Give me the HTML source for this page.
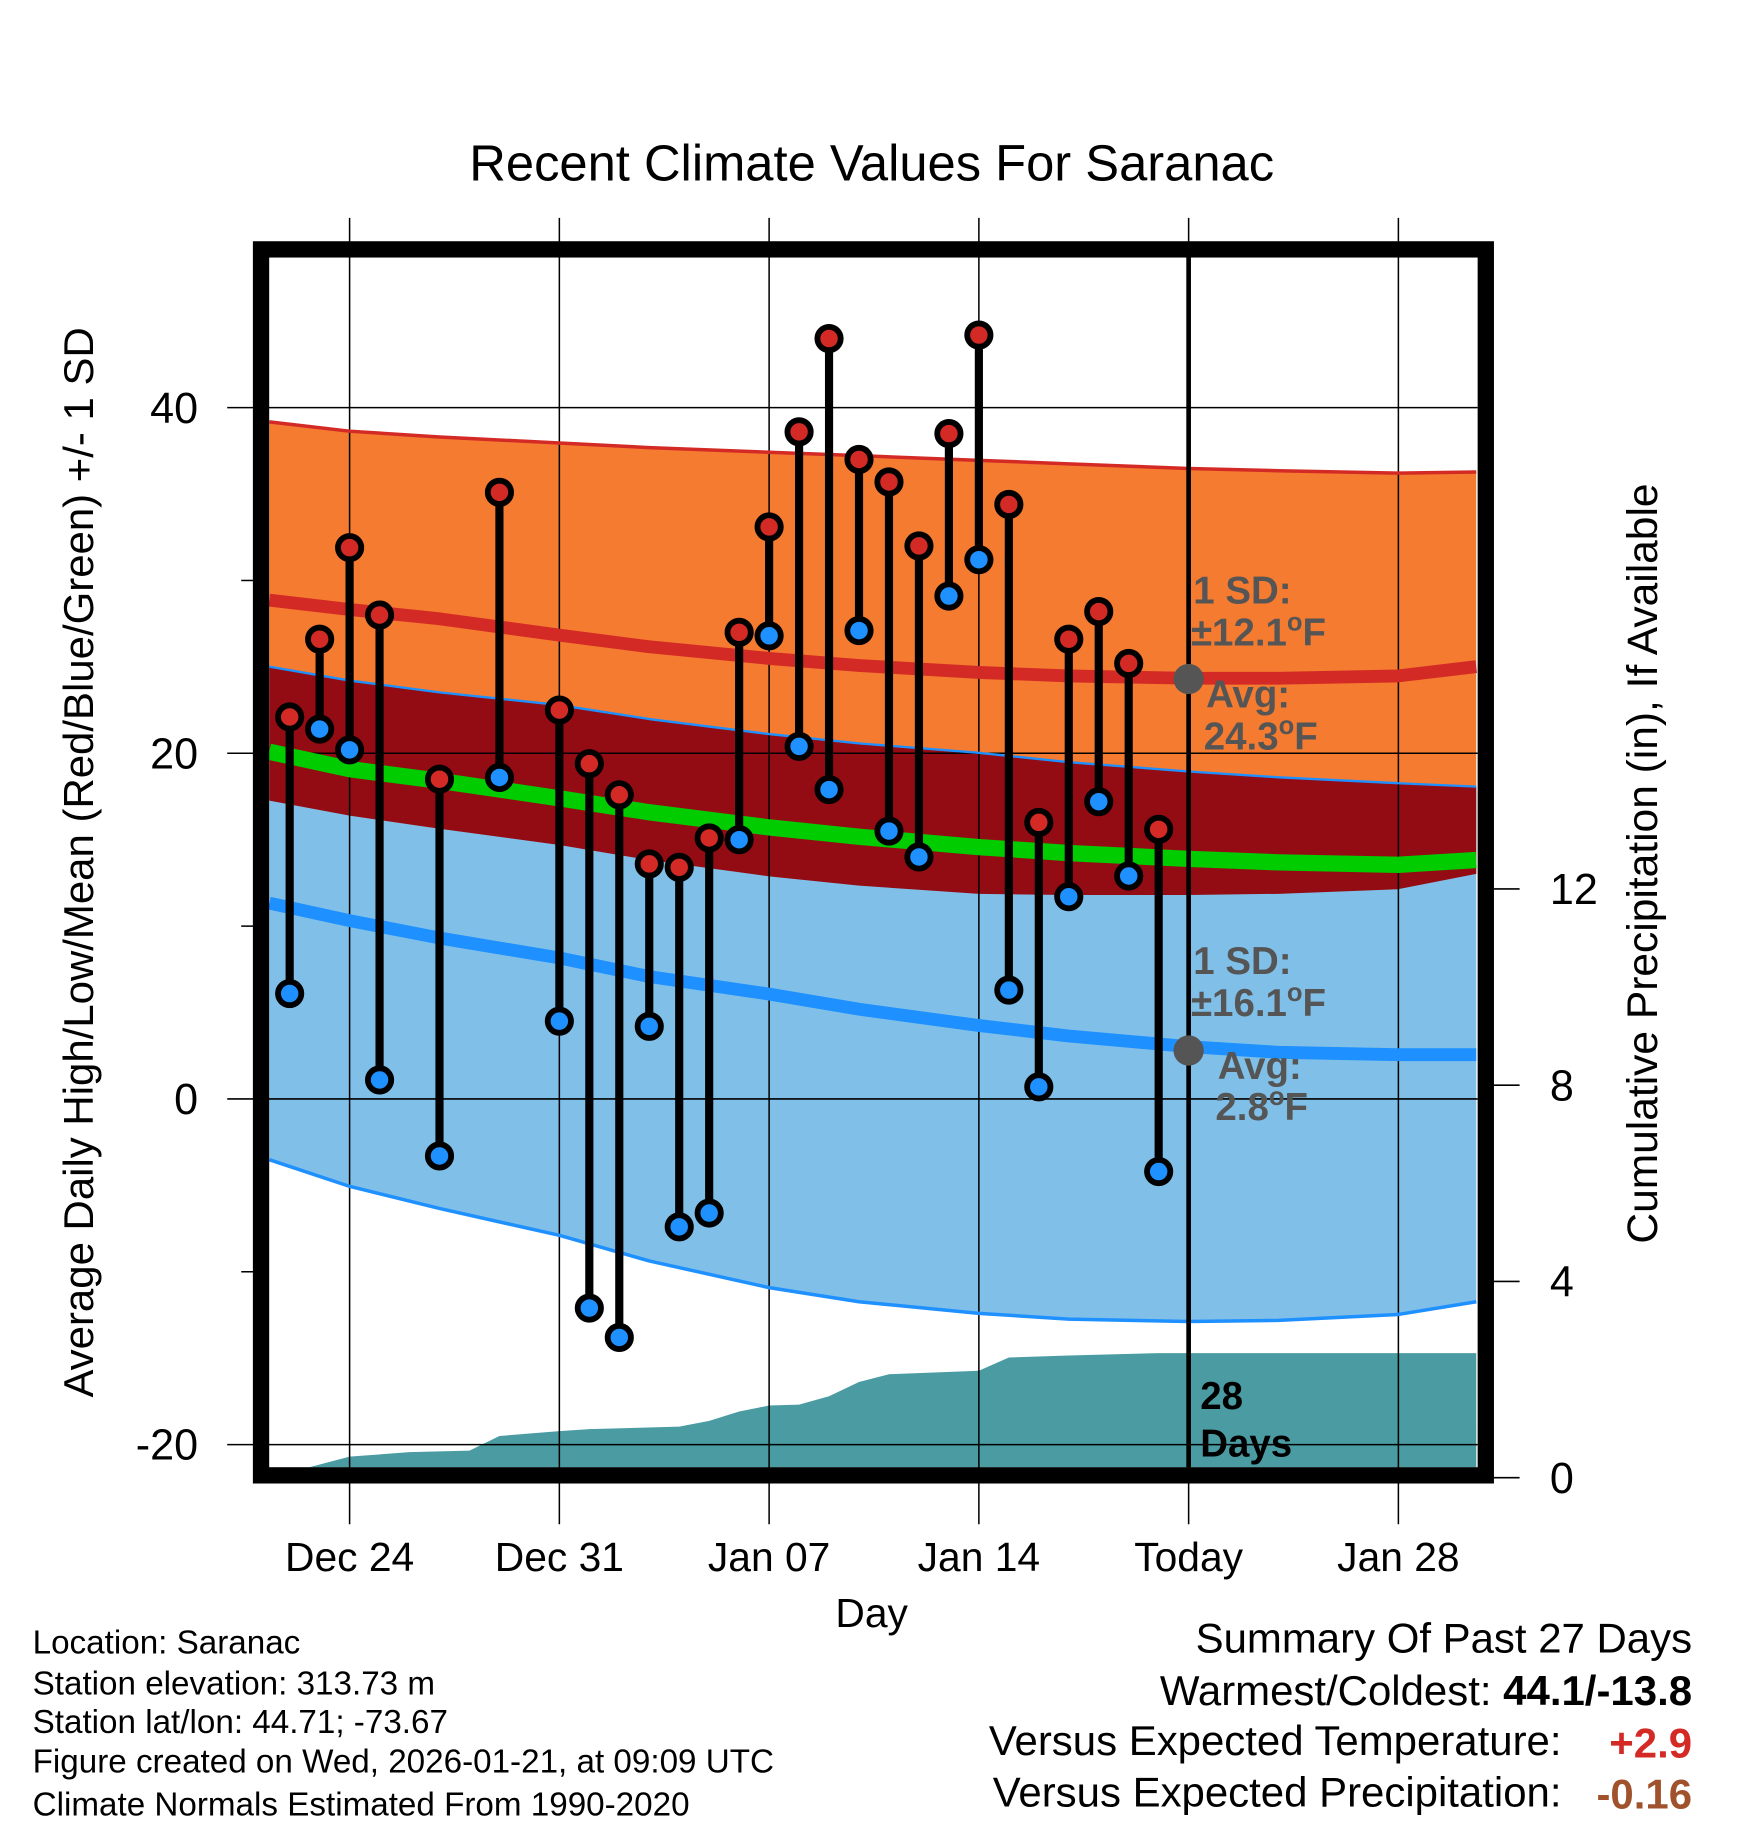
<!DOCTYPE html>
<html><head><meta charset="utf-8"><style>
html,body{margin:0;padding:0;background:#fff;}
svg{display:block;font-family:"Liberation Sans",Arial,sans-serif;}
</style></head><body>
<svg id="chart" width="1748" height="1828" viewBox="0 0 1500 1568.6" preserveAspectRatio="none" xmlns="http://www.w3.org/2000/svg">
<g id="bands"></g>
<g id="precip"></g>
<g id="grid"></g>
<g id="lines"></g>
<g id="annot"></g>
<g id="obs"></g>
<rect x="224" y="214" width="1051" height="1052" fill="none" stroke="#000" stroke-width="14"/>
<g id="axes"></g>
<text x="748" y="155" text-anchor="middle" font-size="43.5">Recent Climate Values For Saranac</text>
<text x="748" y="1396" text-anchor="middle" font-size="35">Day</text>
<text transform="translate(80,740) rotate(-90)" text-anchor="middle" font-size="36">Average Daily High/Low/Mean (Red/Blue/Green) +/- 1 SD</text>
<text transform="translate(1422,741) rotate(-90)" text-anchor="middle" font-size="36.5">Cumulative Precipitation (in), If Available</text>
<g font-size="28.5">
<text x="28" y="1419">Location: Saranac</text>
<text x="28" y="1454">Station elevation: 313.73 m</text>
<text x="28" y="1487">Station lat/lon: 44.71; -73.67</text>
<text x="28" y="1521">Figure created on Wed, 2026-01-21, at 09:09 UTC</text>
<text x="28" y="1558">Climate Normals Estimated From 1990-2020</text>
</g>
<g font-size="36">
<text x="1452" y="1418" text-anchor="end">Summary Of Past 27 Days</text>
<text x="1452" y="1463" text-anchor="end">Warmest/Coldest: <tspan font-weight="bold">44.1/-13.8</tspan></text>
<text x="1340" y="1506" text-anchor="end">Versus Expected Temperature:</text>
<text x="1452" y="1508" text-anchor="end" font-weight="bold" fill="#d42a25">+2.9</text>
<text x="1340" y="1550" text-anchor="end">Versus Expected Precipitation:</text>
<text x="1452" y="1552" text-anchor="end" font-weight="bold" fill="#a0522d">-0.16</text>
</g>
</svg>
<script>
// Day index: 0 = Dec 24, 28 = Today (Jan 21)
const obsDays = [-2,-1,0,1,3,5,7,8,9,10,11,12,13,14,15,16,17,18,19,20,21,22,23,24,25,26,27];
const highs = [22.1,26.6,31.9,28.0,18.5,35.1,22.5,19.4,17.6,13.6,13.4,15.1,27.0,33.1,38.6,44.0,37.0,35.7,32.0,38.5,44.2,34.4,16.0,26.6,28.2,25.2,15.6];
const lows = [6.1,21.4,20.2,1.1,-3.3,18.6,4.5,-12.1,-13.8,4.2,-7.4,-6.6,15.0,26.8,20.4,17.9,27.1,15.5,14.0,29.1,31.2,6.3,0.7,11.7,17.2,12.9,-4.2];
const normDays = [-2.68,0,3,7,10,14,17,21,24,28,31,35,37.6];
const highUpper = [39.18,38.64,38.30,37.96,37.69,37.42,37.22,36.95,36.75,36.48,36.35,36.21,36.28];
const highMean = [28.86,28.32,27.78,26.84,26.16,25.49,25.08,24.68,24.48,24.34,24.34,24.48,25.02];
const lowUpper = [25.02,24.21,23.53,22.79,21.98,21.11,20.57,20.03,19.49,18.95,18.61,18.27,18.07];
const meanNorm = [20.09,19.08,18.41,17.40,16.59,15.71,15.17,14.57,14.23,13.89,13.69,13.55,13.82];
const highLower = [17.26,16.39,15.64,14.69,13.82,12.88,12.34,11.87,11.80,11.80,11.87,12.14,13.02];
const lowMean = [11.33,10.32,9.31,8.16,7.08,6.07,5.19,4.25,3.64,3.03,2.70,2.56,2.56];
const lowLower = [-3.51,-5.06,-6.34,-7.89,-9.37,-10.92,-11.73,-12.41,-12.74,-12.88,-12.81,-12.47,-11.73];
const precipDays = [-1.36,0,2,4,5,7,8,11,12,13,14,15,16,17,18,21,22,24,27,37.6];
const precipIn = [0.21,0.43,0.52,0.55,0.85,0.95,0.99,1.04,1.16,1.35,1.47,1.49,1.66,1.95,2.11,2.18,2.45,2.49,2.54,2.54];
const xTickDays = [0,7,14,21,28,35];
const xTickLabels = ["Dec 24","Dec 31","Jan 07","Jan 14","Today","Jan 28"];
const yTicks = [40,20,0,-20];
const yMinor = [30,10,-10];
const rTicks = [0,4,8,12];
const todayDay = 28;
const highAvg = 24.3, lowAvg = 2.8;

const NS="http://www.w3.org/2000/svg";
const X=d=>300+25.714*d;
const Y=t=>943-14.83*t;
const R=p=>1268-42.1*p;
function mk(tag,attrs,parent){const e=document.createElementNS(NS,tag);for(const k in attrs)e.setAttribute(k,attrs[k]);parent.appendChild(e);return e;}
const $=id=>document.getElementById(id);
function pts(ds,vs,f){return ds.map((d,i)=>X(d).toFixed(1)+","+f(vs[i]).toFixed(1));}
function band(up,lo,fill,name){
  const p=pts(normDays,up,Y).concat(pts(normDays,lo,Y).reverse());
  const e=mk('polygon',{points:p.join(' '),fill:fill},$('bands'));
  
  
}
band(highUpper,highLower,'#f47b30','high-sd-band');
band(lowUpper,lowLower,'#80c0e8','low-sd-band');
band(lowUpper,highLower,'#940c13','overlap-band');
function line(vals,col,w,name){
  const e=mk('polyline',{points:pts(normDays,vals,Y).join(' '),fill:'none',stroke:col,'stroke-width':w,'stroke-linejoin':'round'},$('lines'));
  
  
}
line(highUpper,'#d42a25',3,'high-upper-sd-line');
line(lowUpper,'#1e90ff',2,'low-upper-sd-line');
line(lowLower,'#1e90ff',3,'low-lower-sd-line');
line(highMean,'#d42a25',11,'high-mean-line');
line(meanNorm,'#00cc00',14,'mean-line');
line(lowMean,'#1e90ff',11,'low-mean-line');
// precip
{
  const p=pts(precipDays,precipIn,R);
  p.push(X(37.6)+","+1259,X(-1.36)+","+1259);
  const e=mk('polygon',{points:p.join(' '),fill:'#4a9ba2'},$('precip'));
  
  
}
// grid
xTickDays.forEach((d,i)=>{
  const l=mk('line',{x1:X(d),x2:X(d),y1:187,y2:1308,stroke:'#000','stroke-width':1.3},$('grid'));
  
  
  const t=mk('text',{x:X(d),y:1348,'text-anchor':'middle','font-size':35},$('axes'));
  t.textContent=xTickLabels[i];
  
  
});
{
  const l=mk('line',{x1:X(todayDay),x2:X(todayDay),y1:221,y2:1259,stroke:'#000','stroke-width':4},$('annot'));
  
  
}
yTicks.forEach(v=>{
  const l=mk('line',{x1:195,x2:1268,y1:Y(v),y2:Y(v),stroke:'#000','stroke-width':1.3},$('grid'));
  
  
  const t=mk('text',{x:170,y:Y(v)+13,'text-anchor':'end','font-size':37},$('axes'));
  t.textContent=v;
  
  
});
yMinor.forEach(v=>{
  const l=mk('line',{x1:207,x2:218,y1:Y(v),y2:Y(v),stroke:'#000','stroke-width':1.3},$('axes'));
  
  
});
rTicks.forEach(v=>{
  const l=mk('line',{x1:1282,x2:1304,y1:R(v),y2:R(v),stroke:'#000','stroke-width':1.3},$('axes'));
  
  
  const t=mk('text',{x:1330,y:R(v)+13,'text-anchor':'start','font-size':37},$('axes'));
  t.textContent=v;
  
  
});
// annotations
{
  const g=$('annot');
  const add=(x,y,s,name,col,deg)=>{
    const t=mk('text',{x:x,y:y,'font-size':33,'font-weight':'bold',fill:col||'#555'},g);
    if(deg){
      t.appendChild(document.createTextNode(s));
      const sp=mk('tspan',{'font-size':22,dy:-13},t);sp.textContent='o';
      const sp2=mk('tspan',{dy:13},t);sp2.textContent='F';
    } else t.textContent=s;
    };
  add(1024,518,'1 SD:','high-sd-label');
  add(1022,554,'±12.1','high-sd-value',null,true);
  add(1035,607,'Avg:','high-avg-label');
  add(1033,643,'24.3','high-avg-value',null,true);
  add(1024,836,'1 SD:','low-sd-label');
  add(1022,872,'±16.1','low-sd-value',null,true);
  add(1045,926,'Avg:','low-avg-label');
  add(1043,961,'2.8','low-avg-value',null,true);
  add(1030,1209,'28','days-count','#000');
  add(1030,1250,'Days','days-label','#000');
  const c1=mk('circle',{cx:X(todayDay),cy:Y(highAvg),r:13,fill:'#555'},g);
  
  
  const c2=mk('circle',{cx:X(todayDay),cy:Y(lowAvg),r:13,fill:'#555'},g);
  
  
}
// observations
obsDays.forEach((d,i)=>{
  const g=$('obs');
  const x=X(d);
  const l=mk('line',{x1:x,x2:x,y1:Y(highs[i]),y2:Y(lows[i]),stroke:'#000','stroke-width':7},g);
  
  
  const h=mk('circle',{cx:x,cy:Y(highs[i]),r:10,fill:'#d42a25',stroke:'#000','stroke-width':5},g);
  
  
  const lo=mk('circle',{cx:x,cy:Y(lows[i]),r:10,fill:'#1e90ff',stroke:'#000','stroke-width':5},g);
  
  
});
</script>
</body></html>
